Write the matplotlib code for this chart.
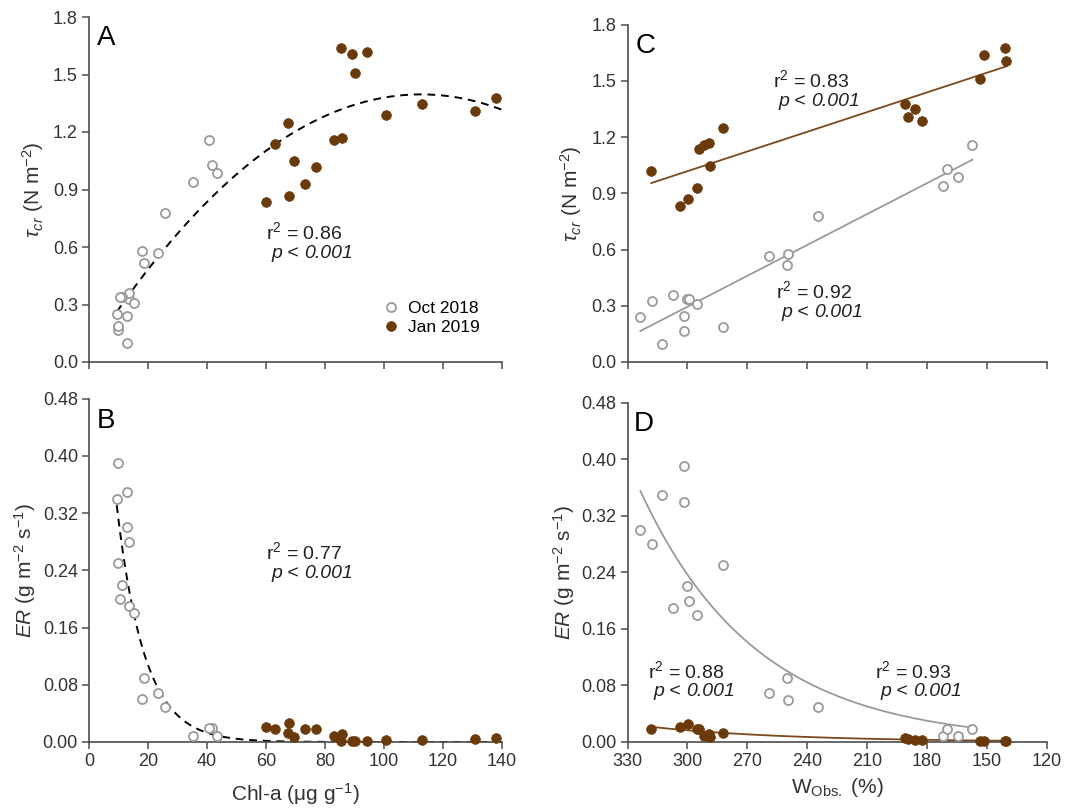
import matplotlib
matplotlib.use("Agg")
import matplotlib.pyplot as plt
from matplotlib.lines import Line2D
from matplotlib.text import Annotation
import numpy as np

plt.rcParams['font.family'] = ['Liberation Sans', 'DejaVu Sans']
plt.rcParams['mathtext.fontset'] = 'custom'
plt.rcParams['mathtext.rm'] = 'Liberation Sans'
plt.rcParams['mathtext.it'] = 'Liberation Sans:italic'
plt.rcParams['mathtext.bf'] = 'Liberation Sans:bold'

# Oct 2018 samples (same order in every array)
oct_chl = [12.9, 13.6, 12.8, 13.4, 9.4, 9.9, 11.3, 10.4, 15.3, 9.8,
           23.5, 17.8, 18.5, 25.7, 35.3, 41.6, 43.3, 40.6]
oct_w = [323.5, 317.7, 312.8, 307.4, 301.8, 301.5, 300.3, 299.4, 295.1, 282.0,
         259.0, 249.8, 250.2, 234.6, 171.7, 169.8, 164.2, 157.2]
oct_tau_a = [0.238, 0.330, 0.097, 0.360, 0.250, 0.165, 0.339, 0.339, 0.308, 0.186,
             0.567, 0.577, 0.517, 0.779, 0.939, 1.026, 0.988, 1.158]
oct_tau_c = [0.238, 0.327, 0.098, 0.358, 0.247, 0.167, 0.338, 0.338, 0.308, 0.187,
             0.567, 0.578, 0.518, 0.777, 0.937, 1.028, 0.989, 1.158]
oct_er = [0.300, 0.280, 0.350, 0.190, 0.340, 0.390, 0.220, 0.200, 0.180, 0.250,
          0.069, 0.060, 0.090, 0.049, 0.009, 0.019, 0.009, 0.019]

# Jan 2019 samples
jan_chl = [76.9, 60.0, 67.9, 73.3, 63.0, 83.1, 85.9, 69.4, 67.3,
           137.9, 131.0, 112.8, 100.6, 90.0, 85.3, 94.1, 89.0]
jan_w = [318.1, 303.6, 299.5, 295.2, 294.4, 291.7, 289.0, 288.7, 282.3,
         191.0, 189.7, 186.0, 182.4, 153.3, 151.5, 141.1, 140.2]
jan_tau_a = [1.019, 0.835, 0.868, 0.929, 1.137, 1.158, 1.169, 1.047, 1.247,
             1.379, 1.308, 1.348, 1.289, 1.508, 1.640, 1.619, 1.608]
jan_tau_c = [1.017, 0.834, 0.868, 0.927, 1.138, 1.158, 1.167, 1.048, 1.249,
             1.378, 1.307, 1.348, 1.288, 1.508, 1.638, 1.677, 1.608]
jan_er = [0.018, 0.021, 0.026, 0.018, 0.018, 0.008, 0.011, 0.0075, 0.013,
          0.006, 0.004, 0.003, 0.003, 0.002, 0.0014, 0.0014, 0.002]

r2_labels = {"A": "0.86", "B": "0.77", "C_jan": "0.83", "C_oct": "0.92",
             "D_jan": "0.88", "D_oct": "0.93"}
p_label = "0.001"

GRAY = '#9a9a9a'
BROWN = '#6b3a0a'
BROWN_LINE = '#7a4a1e'
AX_COL = '#4d4d4d'
TXT = '#222222'
LAB = '#333333'

W, H = 1068, 811


def exp_fit(x, y):
    # least squares y = a*exp(b*x), grid search on b
    x = np.asarray(x, float)
    y = np.asarray(y, float)
    best = None
    for b in np.linspace(-0.3, 0.05, 7001):
        e = np.exp(b * (x - x.mean()))
        a = (y @ e) / (e @ e)
        sse = np.sum((y - a * e) ** 2)
        if best is None or sse < best[0]:
            best = (sse, a, b)
    _, a, b = best
    return lambda t: a * np.exp(b * (np.asarray(t) - x.mean()))


def style(ax, xlim, xticks, ylim, yticks, yfmt, xlabels=True):
    for s in ['top', 'right']:
        ax.spines[s].set_visible(False)
    for s in ['left', 'bottom']:
        ax.spines[s].set_color(AX_COL)
        ax.spines[s].set_linewidth(1.2)
    ax.set_xlim(*xlim)
    ax.set_ylim(*ylim)
    ax.set_xticks(xticks)
    ax.set_yticks(yticks)
    ax.set_yticklabels([yfmt % v for v in yticks])
    if not xlabels:
        ax.set_xticklabels([])
    ax.tick_params(direction='out', length=5, width=1.1, color=AX_COL,
                   labelsize=13, labelcolor=LAB, pad=3)


def ftext(px, py, s, **kw):
    kw.setdefault('color', TXT)
    return fig.text(px / W, 1 - py / H, s, **kw)


def stat(px, py, r2):
    ftext(px, py, r"r$^2$ = " + r2, fontsize=14, va='center')
    # "p < 0.001" with italic p and italic number, upright "<"
    t1 = ftext(px + 5, py + 21, "p", fontsize=14, va='center', style='italic')
    t2 = fig.add_artist(Annotation(" < ", xy=(1, 0.5), xycoords=t1, va='center',
                                   ha='left', fontsize=14, color=TXT))
    fig.add_artist(Annotation(p_label, xy=(1, 0.5), xycoords=t2, va='center',
                              ha='left', fontsize=14, color=TXT, style='italic'))


fig = plt.figure(figsize=(W / 100, H / 100), dpi=100)
axA = fig.add_axes([89 / W, 1 - 362 / H, 413 / W, 345 / H])
axC = fig.add_axes([627.5 / W, 1 - 362 / H, 419.2 / W, 337.5 / H])
axB = fig.add_axes([89 / W, 1 - 742 / H, 413 / W, 343.5 / H])
axD = fig.add_axes([627.5 / W, 1 - 742 / H, 419.2 / W, 339.3 / H])

mk_oct = dict(ls='none', marker='o', ms=6.5, mfc='white', mec=GRAY, mew=1.3, clip_on=False, zorder=3)
mk_jan = dict(ls='none', marker='o', ms=7, mfc=BROWN, mec=BROWN, mew=0.5, clip_on=False, zorder=4)

# ---- A: tau vs Chl-a
all_chl = np.array(oct_chl + jan_chl)
coef = np.polyfit(all_chl, np.array(oct_tau_a + jan_tau_a), 2)
xs = np.linspace(all_chl.min(), 140, 200)
axA.plot(xs, np.polyval(coef, xs), color='black', ls=(0, (4, 3)), lw=1.4, zorder=2)
axA.plot(oct_chl, oct_tau_a, **mk_oct)
axA.plot(jan_chl, jan_tau_a, **mk_jan)
style(axA, (0, 140), range(0, 141, 20), (0, 1.8), np.arange(0, 1.81, 0.3), '%.1f', xlabels=False)
axA.set_ylabel(r"$\tau_{cr}$ (N m$^{-2}$)", fontsize=15, color=LAB, labelpad=5)

handles = [Line2D([], [], **{k: v for k, v in mk_oct.items() if k != 'clip_on'}),
           Line2D([], [], **{k: v for k, v in mk_jan.items() if k != 'clip_on'})]
fig.legend(handles, ['Oct 2018', 'Jan 2019'], loc='center left', frameon=False,
           bbox_to_anchor=(382 / W, 1 - 318 / H), fontsize=12.5, handlelength=1.0,
           handletextpad=0.5, labelspacing=0.25, borderpad=0, borderaxespad=0)

# ---- B: ER vs Chl-a
f_b = exp_fit(all_chl, np.array(oct_er + jan_er))
axB.plot(xs, f_b(xs), color='black', ls=(0, (4, 3)), lw=1.4, zorder=2)
axB.plot(oct_chl, oct_er, **mk_oct)
axB.plot(jan_chl, jan_er, **mk_jan)
style(axB, (0, 140), range(0, 141, 20), (0, 0.48), np.arange(0, 0.481, 0.08), '%.2f')
axB.set_ylabel(r"$ER$ (g m$^{-2}$ s$^{-1}$)", fontsize=15, color=LAB, labelpad=3)
axB.set_xlabel(r"Chl-a (μg g$^{-1}$)", fontsize=15, color=LAB, labelpad=8)

# ---- C: tau vs W
for w, t, col in [(oct_w, oct_tau_c, GRAY), (jan_w, jan_tau_c, BROWN_LINE)]:
    c = np.polyfit(w, t, 1)
    ws = np.array([max(w), min(w)])
    axC.plot(ws, np.polyval(c, ws), color=col, lw=1.3, zorder=2)
axC.plot(oct_w, oct_tau_c, **mk_oct)
axC.plot(jan_w, jan_tau_c, **mk_jan)
style(axC, (330, 120), range(330, 119, -30), (0, 1.8), np.arange(0, 1.81, 0.3), '%.1f', xlabels=False)
axC.set_ylabel(r"$\tau_{cr}$ (N m$^{-2}$)", fontsize=15, color=LAB, labelpad=5)

# ---- D: ER vs W
for w, e, col in [(oct_w, oct_er, GRAY), (jan_w, jan_er, BROWN_LINE)]:
    f = exp_fit(w, e)
    ws = np.linspace(max(w), min(w), 200)
    axD.plot(ws, f(ws), color=col, lw=1.3, zorder=2)
axD.plot(oct_w, oct_er, **mk_oct)
axD.plot(jan_w, jan_er, **mk_jan)
style(axD, (330, 120), range(330, 119, -30), (0, 0.48), np.arange(0, 0.481, 0.08), '%.2f')
axD.set_ylabel(r"$ER$ (g m$^{-2}$ s$^{-1}$)", fontsize=15, color=LAB, labelpad=3)
axD.set_xlabel(r"W$_{\mathrm{Obs.}}$ (%)", fontsize=15, color=LAB, labelpad=4)

# panel letters
for px, py, s in [(97, 38, 'A'), (636, 46, 'C'), (97, 421, 'B'), (634, 424, 'D')]:
    ftext(px, py, s, fontsize=20, va='center', color='black')

stat(266, 232, r2_labels["A"])
stat(266, 552, r2_labels["B"])
stat(773, 80, r2_labels["C_jan"])
stat(776, 291, r2_labels["C_oct"])
stat(648, 671, r2_labels["D_jan"])
stat(875, 671, r2_labels["D_oct"])

fig.savefig("out.png", dpi=100)
